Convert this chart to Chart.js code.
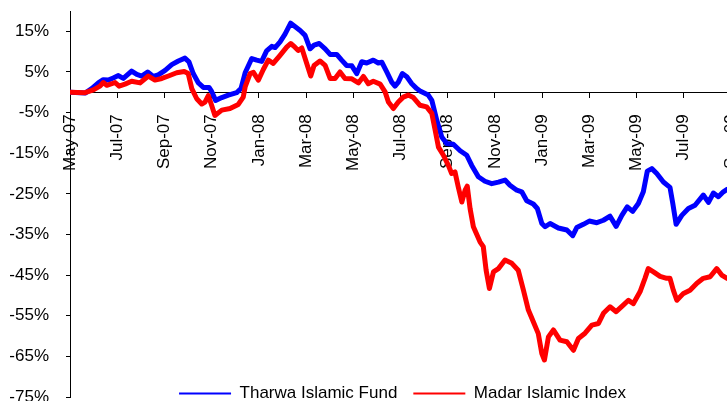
<!DOCTYPE html>
<html>
<head>
<meta charset="utf-8">
<script src="https://cdn.jsdelivr.net/npm/chart.js@4.4.1/dist/chart.umd.min.js"></script>
<style>
  html, body { margin: 0; padding: 0; background: #fff; overflow: hidden; }
  #wrap { position: relative; width: 805px; height: 440px; }
</style>
</head>
<body>
<div id="wrap"><canvas id="chart"></canvas></div>
<script>
// x labels every 2 months, starting May-07 (month 0)
const monthLabels = ['May-07', 'Jul-07', 'Sep-07', 'Nov-07', 'Jan-08', 'Mar-08', 'May-08', 'Jul-08',
    'Sep-08', 'Nov-08', 'Jan-09', 'Mar-09', 'May-09', 'Jul-09', 'Sep-09'];
const yTicks = [-75, -65, -55, -45, -35, -25, -15, -5, 5, 15];

// Tharwa Islamic Fund, cumulative return (%), x in months since May-07
const fundMonths = [0, 0.64, 0.92, 1.20, 1.41, 1.62, 1.83, 2.05, 2.26, 2.61,
    2.83, 3.04, 3.29, 3.53, 3.74, 4.03, 4.31, 4.59, 4.87, 5.04,
    5.22, 5.44, 5.65, 5.89, 6.00, 6.17, 6.43, 6.71, 7.06, 7.25,
    7.42, 7.70, 7.91, 8.12, 8.33, 8.55, 8.69, 8.90, 9.11, 9.35,
    9.53, 9.75, 9.96, 10.17, 10.34, 10.56, 10.81, 11.02, 11.30, 11.51,
    11.72, 11.94, 12.15, 12.36, 12.57, 12.85, 13.06, 13.21, 13.42, 13.63,
    13.77, 13.91, 14.08, 14.27, 14.48, 14.69, 14.83, 15.18, 15.33, 15.54,
    15.75, 15.96, 16.24, 16.53, 16.81, 17.02, 17.30, 17.58, 17.87, 18.15,
    18.43, 18.64, 18.93, 19.14, 19.35, 19.63, 19.80, 19.99, 20.13, 20.34,
    20.69, 21.05, 21.30, 21.47, 21.75, 22.00, 22.32, 22.60, 22.88, 23.14,
    23.38, 23.61, 23.84, 24.08, 24.29, 24.46, 24.65, 24.86, 25.14, 25.42,
    25.54, 25.68, 25.92, 26.20, 26.48, 26.83, 27.05, 27.26, 27.47, 27.68,
    27.84, 28.2];
const fundValues = [0, -0.2, 0.9, 2.3, 3.1, 3.0, 3.5, 4.1, 3.4, 5.2,
    4.4, 4.0, 5.0, 3.9, 4.3, 5.4, 6.8, 7.7, 8.4, 7.5,
    4.6, 2.3, 1.2, 1.2, 0.2, -2.0, -1.3, -0.7, -0.1, 1.0,
    4.8, 8.3, 7.9, 7.6, 10.2, 11.3, 11.0, 12.4, 14.3, 17.0,
    16.2, 15.2, 14.0, 10.7, 11.6, 12.0, 10.7, 9.3, 9.3, 7.9,
    6.6, 6.5, 4.6, 7.5, 7.2, 7.9, 7.2, 7.4, 5.0, 2.5,
    1.5, 2.5, 4.6, 3.8, 2.1, 0.9, 0.3, -0.7, -2.0, -6.9,
    -11.0, -12.6, -12.8, -14.4, -15.5, -18.0, -20.8, -21.9, -22.5, -22.1,
    -21.6, -22.9, -24.1, -24.5, -26.7, -27.5, -28.6, -32.3, -33.1, -32.3,
    -33.4, -33.9, -35.3, -33.3, -32.5, -31.7, -32.1, -31.5, -30.5, -33.0,
    -30.3, -28.2, -29.3, -27.4, -24.5, -19.4, -18.8, -20.0, -22.1, -23.4,
    -27.4, -32.5, -30.3, -28.6, -27.8, -25.3, -27.1, -24.8, -25.7, -24.5,
    -23.9, -24.0];

// Madar Islamic Index
const indexMonths = [0, 0.64, 0.99, 1.27, 1.41, 1.56, 1.77, 1.91, 2.08, 2.33,
    2.61, 2.97, 3.32, 3.60, 3.89, 4.17, 4.52, 4.84, 5.01, 5.16,
    5.37, 5.58, 5.72, 5.86, 6.00, 6.14, 6.43, 6.78, 7.13, 7.34,
    7.42, 7.63, 7.77, 7.98, 8.19, 8.40, 8.61, 8.90, 9.18, 9.35,
    9.53, 9.67, 9.82, 10.03, 10.20, 10.34, 10.59, 10.81, 11.02, 11.23,
    11.44, 11.65, 11.94, 12.22, 12.43, 12.64, 12.85, 13.14, 13.35, 13.49,
    13.70, 13.91, 14.12, 14.33, 14.55, 14.83, 15.11, 15.33, 15.47, 15.61,
    15.82, 16.03, 16.17, 16.31, 16.45, 16.60, 16.74, 16.83, 16.95, 17.09,
    17.37, 17.51, 17.63, 17.77, 17.94, 18.15, 18.43, 18.72, 18.99, 19.21,
    19.42, 19.63, 19.84, 19.99, 20.10, 20.27, 20.48, 20.76, 21.05, 21.33,
    21.54, 21.82, 22.11, 22.39, 22.60, 22.88, 23.14, 23.44, 23.66, 23.87,
    24.15, 24.36, 24.50, 24.72, 25.00, 25.28, 25.42, 25.56, 25.71, 25.99,
    26.27, 26.56, 26.83, 27.12, 27.40, 27.61, 27.84, 28.2];
const indexValues = [0, -0.1, 0.6, 1.5, 2.4, 1.7, 2.1, 2.4, 1.5, 2.0,
    2.7, 2.3, 4.0, 3.0, 3.4, 4.0, 4.8, 5.1, 4.6, 0.9,
    -1.6, -2.9, -2.4, -0.8, -3.2, -5.7, -4.4, -4.0, -3.0, -1.2,
    1.3, 4.6, 4.9, 3.0, 5.6, 7.9, 7.1, 9.1, 11.1, 12.0,
    11.1, 10.3, 10.9, 7.1, 4.0, 6.6, 7.7, 6.6, 3.4, 3.4,
    5.0, 3.4, 3.3, 2.3, 3.9, 2.1, 2.7, 2.0, 0.1, -2.4,
    -4.0, -2.4, -1.2, -0.7, -1.3, -3.2, -3.6, -5.2, -9.3, -13.5,
    -15.5, -18.0, -20.0, -19.6, -23.3, -27.0, -24.1, -23.1, -28.6, -33.1,
    -36.8, -38.0, -43.8, -48.3, -44.2, -43.4, -41.3, -42.1, -43.8, -48.7,
    -53.6, -56.5, -59.4, -64.3, -65.9, -60.2, -58.5, -61.0, -61.4, -63.5,
    -60.6, -59.3, -57.3, -56.9, -54.4, -52.8, -54.0, -52.4, -51.2, -52.0,
    -49.1, -45.8, -43.4, -44.2, -45.3, -45.8, -45.8, -48.7, -51.2, -49.5,
    -48.7, -47.0, -45.8, -45.4, -43.4, -45.0, -45.8, -46.5];

const blue = '#0000ff';
const red = '#ff0000';
const font = { family: "'Liberation Sans', Arial, sans-serif", size: 17 };

const toPoints = (xs, ys) => xs.map((x, i) => ({ x, y: ys[i] }));

// legend sits over the bottom of the plot, like the original
const legendOverPlot = {
    id: 'legendOverPlot',
    afterLayout(chart) {
        const lg = chart.legend;
        if (!lg) {
            return;
        }
        const h = lg.height;
        lg.top = 369;
        lg.bottom = lg.top + h;
    },
};

new Chart(document.getElementById('chart'), {
    type: 'line',
    data: {
        datasets: [
            {
                label: 'Tharwa Islamic Fund',
                data: toPoints(fundMonths, fundValues),
                borderColor: blue,
                backgroundColor: blue,
                borderWidth: 5,
                order: 1,
            },
            {
                label: 'Madar Islamic Index',
                data: toPoints(indexMonths, indexValues),
                borderColor: red,
                backgroundColor: red,
                borderWidth: 5,
                order: 0,
            },
        ],
    },
    options: {
        responsive: true,
        maintainAspectRatio: false,
        animation: false,
        layout: { padding: { top: 11, right: 0, bottom: 0, left: 0 } },
        elements: {
            point: { radius: 0 },
            line: { tension: 0, borderJoinStyle: 'round', borderCapStyle: 'round', fill: false },
        },
        plugins: {
            tooltip: { enabled: false },
            legend: {
                position: 'bottom',
                labels: {
                    color: '#000',
                    font,
                    boxWidth: 52,
                    boxHeight: 2,
                    padding: 16,
                    generateLabels: (chart) =>
                        Chart.defaults.plugins.legend.labels.generateLabels(chart)
                            .sort((a, b) => a.datasetIndex - b.datasetIndex)
                            .map((l) => ({ ...l, lineWidth: 0 })),
                },
            },
        },
        scales: {
            x: {
                type: 'linear',
                position: { y: 0 },
                min: 0,
                max: 31.14,
                z: 1,
                afterBuildTicks: (scale) => {
                    scale.ticks = monthLabels.map((_, i) => ({ value: i * 2 }));
                },
                afterFit: (scale) => {
                    scale.paddingLeft = 0;
                    scale.paddingRight = 0;
                },
                ticks: {
                    autoSkip: false,
                    minRotation: 90,
                    maxRotation: 90,
                    padding: 17,
                    color: '#000',
                    font,
                    callback: (v) => monthLabels[Math.round(v / 2)],
                },
                grid: { drawOnChartArea: false, drawTicks: true, tickLength: 5, color: '#000' },
                border: { display: true, color: '#000', width: 1 },
            },
            y: {
                min: -75,
                max: 20,
                afterBuildTicks: (scale) => {
                    scale.ticks = yTicks.map((v) => ({ value: v }));
                },
                afterFit: (scale) => {
                    scale.width = 70;
                    scale.paddingTop = 0;
                    scale.paddingBottom = 0;
                },
                ticks: {
                    padding: 17,
                    color: '#000',
                    font,
                    callback: (v) => v + '%',
                },
                grid: { drawOnChartArea: false, drawTicks: true, tickLength: 4, color: '#000' },
                border: { display: true, color: '#000', width: 1 },
            },
        },
    },
    plugins: [legendOverPlot],
});
</script>
</body>
</html>
